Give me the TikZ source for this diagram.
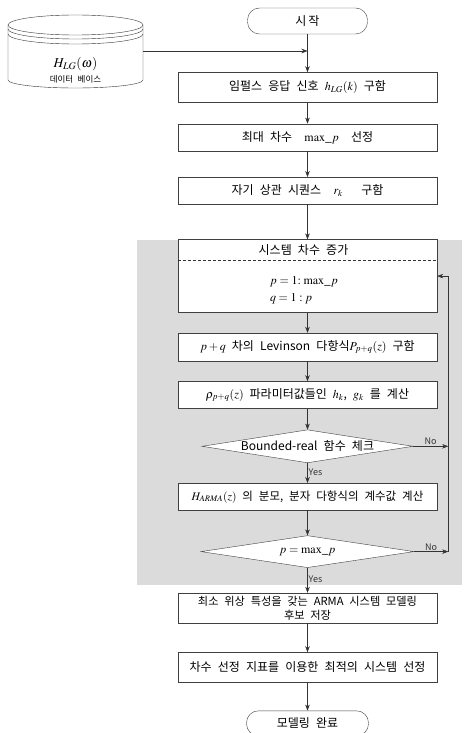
\documentclass[tikz,border=0pt]{standalone}
\usepackage{mathptmx}
\usepackage{fontspec}
\newfontfamily\kr[WordSpace=2.3]{Noto Sans CJK KR}
\usetikzlibrary{positioning,arrows.meta,shapes.geometric}

\begin{document}
\begin{tikzpicture}[x=1pt, y=-1pt,
      font=\kr\fontsize{12}{14}\selectfont,
      term/.style={draw=black!75, fill=white, rounded corners=12pt,
        minimum width=120pt, minimum height=26pt, inner sep=0pt},
      work/.style={draw=black!75, fill=white, minimum width=259pt,
        inner xsep=3pt, inner ysep=0pt, align=center},
      test/.style={draw=black!75, fill=white, diamond, aspect=6.4,
        inner sep=0pt, minimum width=211pt, minimum height=33pt},
      tag/.style={font=\kr\fontsize{9}{10}\selectfont, inner sep=1pt},
      line/.style={black!80},
      flow/.style={-{Stealth[length=6pt, width=4.5pt]}, black!80}]

    \useasboundingbox (0,0) rectangle (474,733);

    % grey area of the order loop
    \fill[black!14] (137,240) rectangle (462,585);

    % data base
    \node[minimum width=135pt, minimum height=76pt, inner sep=0pt] (db)
      at (75.5,51) {};
    \draw[line, fill=white] (8,25) -- (8,80)
      arc[start angle=180, end angle=360, x radius=67.5pt, y radius=8pt]
      -- (143,25);
    \draw[line] (75.5,25) ellipse[x radius=67.5pt, y radius=10pt];
    \draw[line] (8,29) arc[start angle=180, end angle=360,
      x radius=67.5pt, y radius=10pt];
    \draw[line] (8,34) arc[start angle=180, end angle=360,
      x radius=67.5pt, y radius=10pt];
    \node[align=center, inner sep=0pt] (dbl) at (75.5,70)
      {\fontsize{13.5}{15}\selectfont$H_{LG}(\omega)$\\[1pt]
       {\fontsize{8.5}{9}\selectfont 데이터 베이스}};

    % main column
    \node[term] (start) at (307.5,21) {시\,작};
    \node[work, minimum height=30pt, below=38pt of start] (b1)
      {임펄스 응답 신호 $h_{LG}(k)$\enspace 구함};
    \node[work, minimum height=27pt, below=21pt of b1] (b2)
      {최대 차수 \ $\mathrm{max}\_p$\ \ 선정};
    \node[work, minimum height=27pt, below=26pt of b2] (b3)
      {자기 상관 시퀀스 \ $r_k$\ \ \ 구함};
    \node[work, minimum height=73pt, below=35pt of b3] (b4) {};
    \node[inner sep=0pt] (b4h) at ([xshift=-4pt, yshift=-11pt]b4.north)
      {시스템 차수 증가};
    \draw[line, densely dashed] ([yshift=-21pt]b4.north west)
      -- ([yshift=-21pt]b4.north east);
    \node[anchor=west, align=left, inner sep=0pt] (b4b)
      at ([xshift=92pt, yshift=-51pt]b4.north west)
      {$p=1\colon\,\mathrm{max}\_p$\\[3pt]$q=1:p$};
    \node[work, minimum height=28pt, below=20pt of b4] (b5)
      {$p+q$\enspace 차의 Levinson 다항식$P_{p+q}(z)$\enspace 구함};
    \node[work, minimum height=27pt, below=20pt of b5] (b6)
      {$\rho_{p+q}(z)$\enspace 파라미터값들인\enspace $h_k$, $g_k$\enspace 를 계산};
    \node[test, below=21pt of b6] (d1) {Bounded-real 함수 체크};
    \node[work, minimum height=27pt, below=20pt of d1] (b7)
      {\fontsize{11.5}{14}\selectfont
       $H_{ARMA}(z)$ 의 분모, 분자 다항식의 계수값 계산};
    \node[test, minimum width=213pt, minimum height=32pt, below=25pt of b7]
      (d2) {$p=\mathrm{max}\_p$};
    \node[work, minimum height=30pt, below=25pt of d2] (b8)
      {\fontsize{11.2}{13}\selectfont 최소 위상 특성을 갖는 ARMA 시스템 모델링\\
       \fontsize{11.2}{13}\selectfont 후보 저장};
    \node[work, minimum height=30pt, below=29pt of b8] (b9)
      {차수 선정 지표를 이용한 최적의 시스템 선정};
    \node[term, minimum width=122pt, minimum height=25pt, below=28pt of b9]
      (end) {모델링 완료};

    \foreach \a/\b in {start/b1, b1/b2, b2/b3, b3/b4, b4/b5, b5/b6,
      b6/d1, b7/d2, b8/b9, b9/end} {\draw[flow] (\a) -- (\b);}
    \draw[flow] (d1) -- node[tag, right, pos=0.45] (y1) {Yes} (b7);
    \draw[flow] (d2) -- node[tag, right, pos=0.45] (y2) {Yes} (b8);

    % data base feeds the first step
    \draw[flow] (db.east) -- (start.south |- db.east);

    % loop back
    \coordinate[right=11pt of b4] (fb);
    \draw[flow] (d1.east) -- node[tag, above, pos=0.5] (n1) {No}
      (d1.east -| fb);
    \draw[flow] (d2.east) -- node[tag, above, pos=0.5] (n2) {No}
      (d2.east -| fb);
    \draw[line] (d2.east -| fb) -- (fb);
    \draw[flow] (fb) -- (b4.east);
  \end{tikzpicture}
\end{document}
